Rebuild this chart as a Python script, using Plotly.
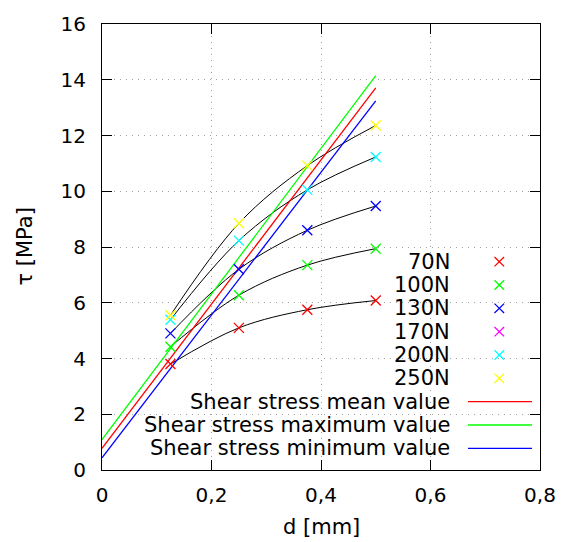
import plotly.graph_objects as go

# ---- data ----
d_mm = [0.125, 0.25, 0.375, 0.5]

tau_70N = [3.80, 5.10, 5.75, 6.08]
tau_100N = [4.42, 6.27, 7.35, 7.94]
tau_130N = [4.90, 7.20, 8.60, 9.47]
tau_170N = []          # legend entry only, no visible points
tau_200N = [5.39, 8.23, 10.05, 11.23]
tau_250N = [5.55, 8.85, 10.92, 12.36]

line_d = [0.0, 0.5]
mean_tau = [0.78, 13.71]
max_tau = [1.09, 14.15]
min_tau = [0.44, 13.24]

load_labels = ["70N", "100N", "130N", "170N", "200N", "250N"]
line_labels = ["Shear stress mean value", "Shear stress maximum value",
               "Shear stress minimum value"]

x_ticks = [0, 0.2, 0.4, 0.6, 0.8]
x_ticktext = ["0", "0,2", "0,4", "0,6", "0,8"]
y_ticks = [0, 2, 4, 6, 8, 10, 12, 14, 16]
y_ticktext = ["0", "2", "4", "6", "8", "10", "12", "14", "16"]

series = [tau_70N, tau_100N, tau_130N, tau_170N, tau_200N, tau_250N]
colors = ["#ff0000", "#00ff00", "#0000ff", "#ff00ff", "#00ffff", "#ffff00"]
line_series = [mean_tau, max_tau, min_tau]
line_colors = ["#ff0000", "#00ff00", "#0000ff"]

FONT = "DejaVu Sans"
W, H = 571, 542
L, R, T, B = 102, 31, 15, 72
PW, PH = W - L - R, H - T - B

fig = go.Figure()

# fitted curves (black, smooth through the points)
for ys in series:
    if ys:
        fig.add_trace(go.Scatter(x=d_mm, y=ys, mode="lines",
                                 line=dict(color="black", width=1, shape="spline"),
                                 showlegend=False, hoverinfo="skip"))

# straight lines
for ys, c in zip(line_series, line_colors):
    fig.add_trace(go.Scatter(x=line_d, y=ys, mode="lines",
                             line=dict(color=c, width=1.3), showlegend=False))

# data points
for ys, c, name in zip(series, colors, load_labels):
    if ys:
        fig.add_trace(go.Scatter(x=d_mm, y=ys, mode="markers", name=name,
                                 marker=dict(symbol="x-thin", size=10,
                                             line=dict(color=c, width=1.3)),
                                 showlegend=False))

# ---- gnuplot-style key (text right aligned, sample on the right) ----
def px_x(p):
    return (p - L) / PW

def px_y(p):
    return (H - B - p) / PH

shapes = []
annotations = []
# opaque key background (hides grid, below traces)
shapes.append(dict(type="rect", xref="paper", yref="paper",
                   x0=0, x1=1, y0=px_y(462), y1=px_y(247),
                   fillcolor="white", line=dict(width=0), layer="between"))

row0 = 257.5
step = 23.8
text_right = px_x(452)
mk_cx = 499.3
half = 4.8
for i, (name, c) in enumerate(zip(load_labels, colors)):
    yc = row0 + i * step
    annotations.append(dict(text=name, xref="paper", yref="paper",
                            x=text_right, y=px_y(yc), xanchor="right",
                            yanchor="middle", showarrow=False,
                            font=dict(family=FONT, size=21, color="black")))
    path = (f"M {px_x(mk_cx-half)},{px_y(yc-half)} L {px_x(mk_cx+half)},{px_y(yc+half)} "
            f"M {px_x(mk_cx-half)},{px_y(yc+half)} L {px_x(mk_cx+half)},{px_y(yc-half)}")
    shapes.append(dict(type="path", xref="paper", yref="paper", path=path,
                       line=dict(color=c, width=1.3)))

for j, (name, c) in enumerate(zip(line_labels, line_colors)):
    yc = row0 + (len(load_labels) + j) * step
    annotations.append(dict(text=name, xref="paper", yref="paper",
                            x=text_right, y=px_y(yc), xanchor="right",
                            yanchor="middle", showarrow=False,
                            font=dict(family=FONT, size=21, color="black")))
    shapes.append(dict(type="line", xref="paper", yref="paper",
                       x0=px_x(468), x1=px_x(532), y0=px_y(yc), y1=px_y(yc),
                       line=dict(color=c, width=1.3)))

# axis titles
annotations.append(dict(text="d [mm]", xref="paper", yref="paper",
                        x=0.5, y=px_y(528), xanchor="center", yanchor="middle",
                        showarrow=False, font=dict(family=FONT, size=21, color="black")))
annotations.append(dict(text="τ [MPa]", xref="paper", yref="paper",
                        x=px_x(25), y=px_y(242), xanchor="center", yanchor="middle",
                        textangle=-90, showarrow=False,
                        font=dict(family=FONT, size=21, color="black")))

axis_common = dict(showline=True, linecolor="black", linewidth=1.2, mirror="ticks",
                   ticks="inside", ticklen=10, tickwidth=1.2, tickcolor="black",
                   showgrid=True, gridcolor="#a0a0a0", gridwidth=1,
                   griddash="1px,5px", zeroline=False,
                   tickfont=dict(family=FONT, size=20, color="black"))

fig.update_layout(
    width=W, height=H,
    margin=dict(l=L, r=R, t=T, b=B, pad=0),
    paper_bgcolor="white", plot_bgcolor="white",
    showlegend=False,
    font=dict(family=FONT, size=20, color="black"),
    xaxis=dict(range=[0, 0.8], tickvals=x_ticks, ticktext=x_ticktext,
               ticklabelstandoff=7, **axis_common),
    yaxis=dict(range=[0, 16], tickvals=y_ticks, ticktext=y_ticktext,
               ticklabelstandoff=11, **axis_common),
    shapes=shapes, annotations=annotations,
)

fig.write_html("out.html")
